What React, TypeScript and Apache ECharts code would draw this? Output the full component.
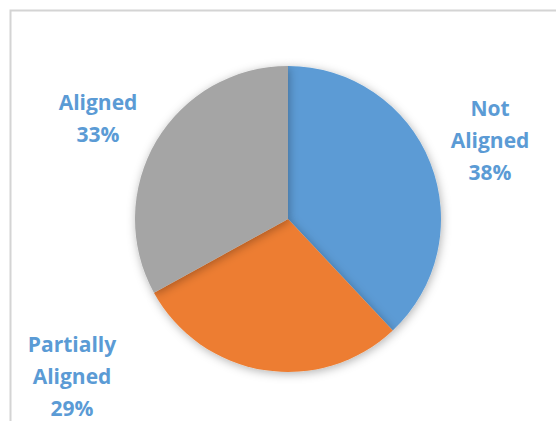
import React, { useEffect, useRef } from "react";
import * as echarts from "echarts";

const categories = ["Not Aligned", "Partially Aligned", "Aligned"];
const values = [38, 29, 33];
const colors = ["#5B9BD5", "#ED7D31", "#A5A5A5"];
const labelTexts = ["Not\nAligned\n38%", "Partially\nAligned\n29%", "Aligned\n33%"];
const labelPos = [
  [490, 140],
  [72, 376],
  [98, 118],
];

export default function App() {
  const ref = useRef<HTMLDivElement>(null);
  useEffect(() => {
    const chart = echarts.init(ref.current!, null, { renderer: "svg" });
    chart.setOption({
      animation: false,
      backgroundColor: "#FFFFFF",
      graphic: [
        {
          type: "rect",
          shape: { x: 10.5, y: 10.5, width: 700, height: 600 },
          style: { fill: "none", stroke: "#D4D4D4", lineWidth: 2 },
          z: 0,
        },
      ],
      series: [
        {
          type: "pie",
          center: [288, 219],
          radius: 153,
          startAngle: 90,
          clockwise: true,
          data: categories.map((c, i) => ({
            name: c,
            value: values[i],
            itemStyle: { color: colors[i] },
            label: { formatter: labelTexts[i] },
          })),
          itemStyle: {
            shadowBlur: 10,
            shadowColor: "rgba(0,0,0,0.3)",
            shadowOffsetX: 1,
            shadowOffsetY: 2,
          },
          label: {
            show: true,
            position: "outside",
            alignTo: "none",
            overflow: "none",
            bleedMargin: 0,
            color: "#5B9BD5",
            fontFamily: "Open Sans",
            fontWeight: "bold",
            fontSize: 21,
            lineHeight: 32,
            align: "center",
          },
          labelLine: { show: false },
          labelLayout: (p: any) => ({
            x: labelPos[p.dataIndex][0],
            y: labelPos[p.dataIndex][1],
            align: "center",
            verticalAlign: "middle",
          }),
          emphasis: { disabled: true },
        },
      ],
    });
    return () => chart.dispose();
  }, []);
  return (
    <div
      ref={ref}
      style={{ position: "fixed", left: 0, top: 0, width: 556, height: 421 }}
    />
  );
}
